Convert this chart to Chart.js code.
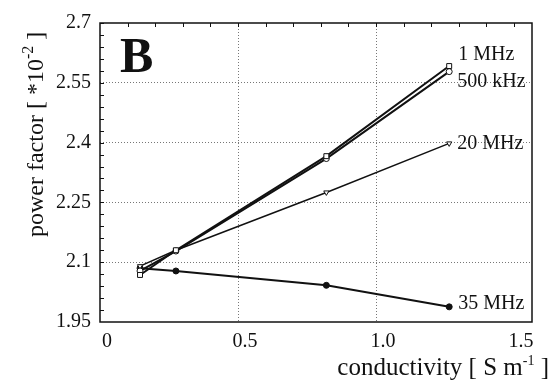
<!DOCTYPE html>
<html>
<head>
<meta charset="utf-8">
<script src="https://cdn.jsdelivr.net/npm/chart.js@4"></script>
<style>
  html, body { margin: 0; padding: 0; background: #fff; }
  #wrap { width: 552px; height: 390px; }
</style>
</head>
<body>
<div id="wrap"><canvas id="pfChart" width="552" height="390"></canvas></div>
<script>
// conductivity of the samples [S/m]
const conductivity = [0.145, 0.275, 0.82, 1.265];

// power factor (*10^-2) per frequency
const series1MHz = [2.068, 2.13, 2.366, 2.592];
const series500kHz = [2.078, 2.128, 2.36, 2.578];
const series20MHz = [2.09, 2.13, 2.275, 2.398];
const series35MHz = [2.085, 2.078, 2.042, 1.988];

const seriesNames = ['1 MHz', '500 kHz', '20 MHz', '35 MHz'];

const xTicks = [0, 0.5, 1.0, 1.5];
const xTickLabels = ['0', '0.5', '1.0', '1.5'];
const yTicks = [1.95, 2.1, 2.25, 2.4, 2.55, 2.7];
const yTickLabels = ['1.95', '2.1', '2.25', '2.4', '2.55', '2.7'];

const serif = '"Liberation Serif", "Times New Roman", serif';

const toPoints = (ys) => ys.map((y, i) => ({ x: conductivity[i], y }));

// frame, minor ticks, panel letter, end labels and axis titles
const decorations = {
  id: 'decorations',
  beforeDatasetsDraw(chart) {
    const { ctx, chartArea: a, scales } = chart;
    ctx.save();
    ctx.strokeStyle = '#111';
    ctx.lineWidth = 1.5;
    ctx.strokeRect(a.left, a.top, a.right - a.left, a.bottom - a.top);
    ctx.lineWidth = 1;
    ctx.beginPath();
    for (let v = 0.1; v < 1.56; v += 0.1) {
      const px = Math.round(scales.x.getPixelForValue(v)) + 0.5;
      ctx.moveTo(px, a.top);
      ctx.lineTo(px, a.top + 4);
    }
    for (let v = 1.98; v < 2.7; v += 0.03) {
      const py = Math.round(scales.y.getPixelForValue(v)) + 0.5;
      ctx.moveTo(a.left, py);
      ctx.lineTo(a.left + 4, py);
    }
    ctx.stroke();
    ctx.restore();
  },
  afterDraw(chart) {
    const { ctx } = chart;
    ctx.save();
    ctx.fillStyle = '#111';

    ctx.font = 'bold 50px ' + serif;
    ctx.textBaseline = 'alphabetic';
    ctx.textAlign = 'left';
    ctx.fillText('B', 120, 72);

    // labels next to the last point of each line
    const offsets = [[9, -11], [8, 10], [8, 0], [9, -3]];
    ctx.font = '20px ' + serif;
    ctx.textBaseline = 'middle';
    chart.data.datasets.forEach((ds, i) => {
      const meta = chart.getDatasetMeta(i);
      const last = meta.data[meta.data.length - 1];
      ctx.fillText(seriesNames[i], last.x + offsets[i][0], last.y + offsets[i][1]);
    });

    // axis titles with a raised exponent
    const drawSup = (parts, x, y, size, supSize) => {
      let cx = x;
      parts.forEach(([txt, sup]) => {
        ctx.font = (sup ? supSize : size) + 'px ' + serif;
        ctx.fillText(txt, cx, sup ? y - 10 : y);
        cx += ctx.measureText(txt).width;
      });
      return cx - x;
    };
    ctx.textBaseline = 'alphabetic';
    const xParts = [['conductivity [ S m', false], ['-1', true], [' ]', false]];
    let w = 0;
    xParts.forEach(([txt, sup]) => {
      ctx.font = (sup ? 14 : 25) + 'px ' + serif;
      w += ctx.measureText(txt).width;
    });
    drawSup(xParts, 549 - w, 375, 25, 14);

    ctx.translate(43, 237);
    ctx.rotate(-Math.PI / 2);
    drawSup([['power factor [ *10', false], ['-2', true], [' ]', false]], 0, 0, 24, 16);
    ctx.restore();
  }
};

const lineStyle = (data, shape, width, fill, radius, rotation) => ({
  data: toPoints(data),
  borderColor: '#111',
  borderWidth: width,
  pointStyle: shape,
  pointRadius: radius,
  pointRotation: rotation || 0,
  pointBackgroundColor: fill,
  pointBorderColor: '#111',
  pointBorderWidth: 1,
  tension: 0
});

const ctx = document.getElementById('pfChart').getContext('2d');
const pfChart = new Chart(ctx, {
  type: 'line',
  data: {
    datasets: [
      { label: seriesNames[0], ...lineStyle(series1MHz, 'rect', 2, '#fff', 3.5) },
      { label: seriesNames[1], ...lineStyle(series500kHz, 'circle', 2, '#fff', 3) },
      { label: seriesNames[2], ...lineStyle(series20MHz, 'triangle', 1.5, '#fff', 3, 180) },
      { label: seriesNames[3], ...lineStyle(series35MHz, 'circle', 2, '#111', 3) }
    ]
  },
  options: {
    responsive: false,
    animation: false,
    layout: { padding: { left: 0, top: 23, right: 20, bottom: 0 } },
    plugins: {
      legend: { display: false },
      tooltip: { enabled: false }
    },
    scales: {
      x: {
        type: 'linear',
        min: 0,
        max: 1.565,
        afterBuildTicks: (scale) => { scale.ticks = xTicks.map(v => ({ value: v })); },
        afterFit: (scale) => { scale.height = 68; },
        ticks: {
          padding: 8,
          labelOffset: 7,
          color: '#111',
          font: { family: serif, size: 20 },
          callback: (value) => xTickLabels[xTicks.indexOf(value)]
        },
        grid: {
          drawTicks: false,
          color: (c) => (c.tick && (c.tick.value === 0 || c.tick.value === 1.5) ? 'rgba(0,0,0,0)' : '#777'),
          lineWidth: 1
        },
        border: { display: false, dash: [1, 2] }
      },
      y: {
        min: 1.95,
        max: 2.7,
        afterBuildTicks: (scale) => { scale.ticks = yTicks.map(v => ({ value: v })); },
        afterFit: (scale) => { scale.width = 100; },
        ticks: {
          padding: 9,
          color: '#111',
          font: { family: serif, size: 20 },
          callback: (value) => yTickLabels[yTicks.indexOf(value)]
        },
        grid: {
          drawTicks: false,
          color: (c) => (c.tick && (c.tick.value === 1.95 || c.tick.value === 2.7) ? 'rgba(0,0,0,0)' : '#777'),
          lineWidth: 1
        },
        border: { display: false, dash: [1, 2] }
      }
    }
  },
  plugins: [decorations]
});
</script>
</body>
</html>
